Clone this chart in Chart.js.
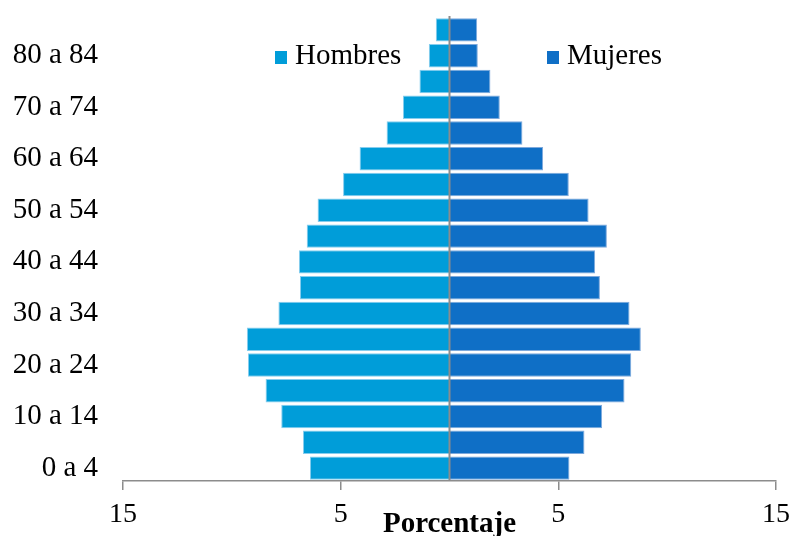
<!DOCTYPE html>
<html>
<head>
<meta charset="utf-8">
<script src="https://cdn.jsdelivr.net/npm/chart.js@4"></script>
<style>
    body { margin: 0; background: #fff; }
    #wrap { position: relative; width: 793px; height: 536px; overflow: hidden; }
    #legend { position: absolute; left: 0; top: 0; width: 793px; height: 0; font-family: 'Liberation Serif', 'Times New Roman', serif; font-size: 29px; color: #000; }
    .item { position: absolute; top: 40px; line-height: 29px; white-space: nowrap; }
    .box { display: inline-block; width: 12px; height: 13px; margin-right: 8px; vertical-align: 0px; }
</style>
</head>
<body>
<div id="wrap">
    <canvas id="chart" width="793" height="536"></canvas>
    <div id="legend"></div>
</div>
<script>
const ageGroups = ['0 a 4', '5 a 9', '10 a 14', '15 a 19', '20 a 24', '25 a 29', '30 a 34', '35 a 39', '40 a 44',
    '45 a 49', '50 a 54', '55 a 59', '60 a 64', '65 a 69', '70 a 74', '75 a 79', '80 a 84', '85 y más']

// percent of population, men are drawn to the left
const hombres = [6.41, 6.73, 7.73, 8.45, 9.26, 9.31, 7.86, 6.87, 6.92, 6.56, 6.06, 4.89, 4.13, 2.89, 2.14, 1.38, 0.95, 0.63]
const mujeres = [5.51, 6.20, 7.01, 8.04, 8.35, 8.79, 8.27, 6.91, 6.69, 7.23, 6.39, 5.48, 4.30, 3.35, 2.31, 1.88, 1.30, 1.27]

const xTicks = [-15, -5, 5, 15]
const legendLeft = [275, 547]

const colorHombres = '#009DD9'
const colorMujeres = '#0F6FC6'
const axisGray = '#8c8c8c'

const centerLine = {
    id: 'centerLine',
    afterDatasetsDraw(chart) {
        const ctx = chart.ctx
        const x = chart.scales.x.getPixelForValue(0)
        ctx.save()
        ctx.strokeStyle = axisGray
        ctx.lineWidth = 2
        ctx.beginPath()
        ctx.moveTo(x, chart.chartArea.top - 1)
        ctx.lineTo(x, chart.chartArea.bottom)
        ctx.stroke()
        ctx.restore()
    }
}

const data = {
    labels: ageGroups,
    datasets: [{
        label: 'Hombres',
        data: hombres.map(v => -v),
        backgroundColor: colorHombres,
        borderColor: '#86cdee',
        borderWidth: 1,
        barPercentage: 0.91,
        categoryPercentage: 1
    }, {
        label: 'Mujeres',
        data: mujeres,
        backgroundColor: colorMujeres,
        borderColor: '#7ea9dc',
        borderWidth: 1,
        barPercentage: 0.91,
        categoryPercentage: 1
    }]
}

const config = {
    type: 'bar',
    data: data,
    plugins: [centerLine],
    options: {
        indexAxis: 'y',
        responsive: false,
        animation: false,
        layout: {
            padding: { top: 17, right: 17, left: 0, bottom: 0 }
        },
        scales: {
            x: {
                stacked: true,
                min: xTicks[0],
                max: xTicks[xTicks.length - 1],
                afterBuildTicks: function(scale) {
                    scale.ticks = xTicks.map(v => ({ value: v }))
                },
                afterFit: function(scale) {
                    scale.height = 55
                    scale.paddingLeft = 0
                    scale.paddingRight = 0
                },
                grid: {
                    drawOnChartArea: false,
                    color: axisGray,
                    lineWidth: 1.5,
                    tickLength: 9
                },
                border: { color: axisGray, width: 1.5 },
                ticks: {
                    padding: 8,
                    color: '#000',
                    font: { family: "'Liberation Serif'", size: 28 },
                    callback: function(value) {
                        return Math.abs(value)
                    }
                },
                title: {
                    display: true,
                    text: 'Porcentaje',
                    color: '#000',
                    padding: { top: 0, bottom: -6 },
                    font: { family: "'Liberation Serif'", size: 29, weight: 'bold' }
                }
            },
            y: {
                stacked: true,
                reverse: true,
                afterFit: function(scale) {
                    scale.width = 123
                    scale.paddingTop = 0
                    scale.paddingBottom = 0
                },
                grid: { display: false, drawTicks: false },
                border: { display: false },
                ticks: {
                    autoSkip: false,
                    padding: 25,
                    color: '#000',
                    font: { family: "'Liberation Serif'", size: 29 },
                    callback: function(value, index) {
                        return index % 2 == 0 ? ageGroups[index] : ''
                    }
                }
            }
        },
        plugins: {
            legend: { display: false },
            tooltip: { enabled: false }
        }
    }
}

const chart = new Chart(document.getElementById('chart'), config)

// legend drawn inside the plot like the original
let legendHtml = ''
data.datasets.forEach((ds, i) => {
    legendHtml += `<div class="item" style="left:${legendLeft[i]}px"><span class="box" style="background:${ds.backgroundColor}"></span>${ds.label}</div>`
})
document.getElementById('legend').innerHTML = legendHtml
</script>
</body>
</html>
